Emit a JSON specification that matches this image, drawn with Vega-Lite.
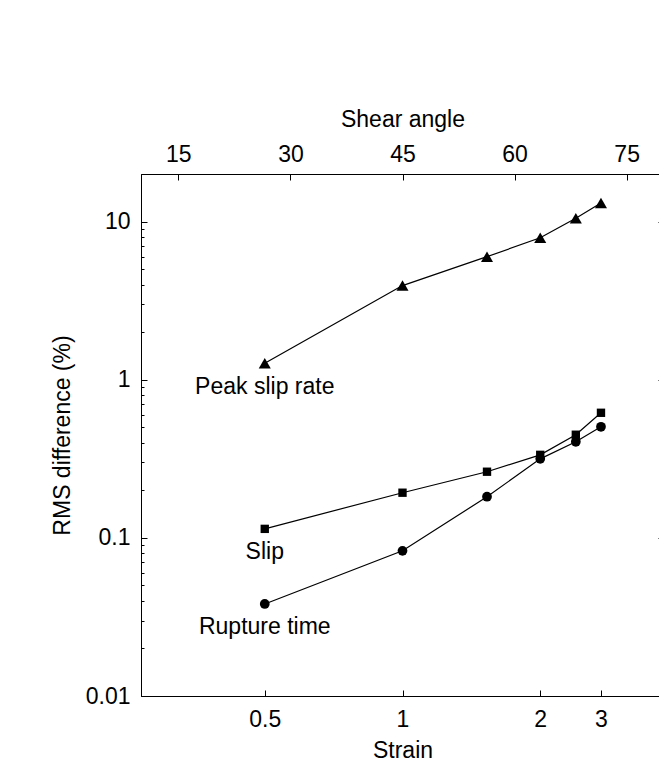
{
  "$schema": "https://vega.github.io/schema/vega-lite/v6.json",
  "width": 523,
  "height": 522,
  "autosize": {"type": "none"},
  "padding": {"left": 141, "top": 174, "right": 0, "bottom": 66},
  "background": "white",
  "datasets": {
    "pts": [
      {"series": "Peak slip rate", "strain": 0.5, "angle": 26.565, "value": 1.27},
      {"series": "Peak slip rate", "strain": 1.0, "angle": 45.0, "value": 3.94},
      {"series": "Peak slip rate", "strain": 1.5, "angle": 56.31, "value": 6.0},
      {"series": "Peak slip rate", "strain": 2.0, "angle": 63.435, "value": 7.9},
      {"series": "Peak slip rate", "strain": 2.5, "angle": 68.199, "value": 10.5},
      {"series": "Peak slip rate", "strain": 3.0, "angle": 71.565, "value": 13.1},
      {"series": "Slip", "strain": 0.5, "angle": 26.565, "value": 0.114},
      {"series": "Slip", "strain": 1.0, "angle": 45.0, "value": 0.193},
      {"series": "Slip", "strain": 1.5, "angle": 56.31, "value": 0.262},
      {"series": "Slip", "strain": 2.0, "angle": 63.435, "value": 0.335},
      {"series": "Slip", "strain": 2.5, "angle": 68.199, "value": 0.449},
      {"series": "Slip", "strain": 3.0, "angle": 71.565, "value": 0.618},
      {"series": "Rupture time", "strain": 0.5, "angle": 26.565, "value": 0.0382},
      {"series": "Rupture time", "strain": 1.0, "angle": 45.0, "value": 0.0828},
      {"series": "Rupture time", "strain": 1.5, "angle": 56.31, "value": 0.182},
      {"series": "Rupture time", "strain": 2.0, "angle": 63.435, "value": 0.316},
      {"series": "Rupture time", "strain": 2.5, "angle": 68.199, "value": 0.405},
      {"series": "Rupture time", "strain": 3.0, "angle": 71.565, "value": 0.504}
    ],
    "labels": [
      {"label": "Peak slip rate", "angle": 26.565, "value": 0.904},
      {"label": "Slip", "angle": 26.565, "value": 0.0815},
      {"label": "Rupture time", "angle": 26.565, "value": 0.0274}
    ]
  },
  "layer": [
    {
      "data": {"name": "pts"},
      "mark": {"type": "line", "color": "black", "strokeWidth": 1.2},
      "encoding": {
        "x": {
          "field": "angle", "type": "quantitative",
          "scale": {"domain": [10, 80], "nice": false, "zero": false},
          "axis": {
            "orient": "bottom", "title": "Strain",
            "values": [26.565, 45, 63.435, 71.565],
            "labelExpr": "datum.value < 30 ? '0.5' : datum.value < 50 ? '1' : datum.value < 67 ? '2' : '3'",
            "ticks": false, "labelPadding": 12, "titlePadding": 8
          }
        },
        "y": {
          "field": "value", "type": "quantitative",
          "scale": {"type": "log", "domain": [0.01, 20], "nice": false},
          "axis": {
            "orient": "left", "title": "RMS difference (%)",
            "values": [0.01, 0.1, 1, 10], "format": "~g",
            "ticks": false, "labelPadding": 11, "titlePadding": 11
          }
        },
        "detail": {"field": "series"}
      }
    },
    {
      "data": {"name": "pts"},
      "mark": {"type": "point", "filled": true, "color": "black", "opacity": 1},
      "encoding": {
        "x": {
          "field": "angle", "type": "quantitative",
          "axis": {
            "orient": "top", "title": "Shear angle",
            "values": [15, 30, 45, 60, 75],
            "ticks": false, "labelPadding": 8, "titlePadding": 12
          }
        },
        "y": {
          "field": "value", "type": "quantitative",
          "axis": {
            "orient": "left", "title": null, "labels": false, "domain": false,
            "values": [0.02, 0.03, 0.04, 0.05, 0.06, 0.07, 0.08, 0.09, 0.2, 0.3, 0.4, 0.5, 0.6, 0.7, 0.8, 0.9, 2, 3, 4, 5, 6, 7, 8, 9],
            "offset": -3, "tickSize": 3
          }
        },
        "shape": {
          "field": "series", "type": "nominal",
          "scale": {"domain": ["Peak slip rate", "Slip", "Rupture time"], "range": ["triangle-up", "square", "circle"]},
          "legend": null
        },
        "size": {
          "field": "series", "type": "nominal",
          "scale": {"type": "ordinal", "domain": ["Peak slip rate", "Slip", "Rupture time"], "range": [145, 70, 95]},
          "legend": null
        }
      }
    },
    {
      "data": {"name": "labels"},
      "mark": {"type": "text", "font": "Liberation Sans", "fontSize": 23, "color": "black", "align": "center", "baseline": "middle"},
      "encoding": {
        "x": {
          "field": "angle", "type": "quantitative",
          "axis": {"orient": "bottom", "title": null, "labels": false, "domain": false,
                   "values": [26.565, 45, 63.435, 71.565], "offset": -6, "tickSize": 6}
        },
        "y": {
          "field": "value", "type": "quantitative",
          "axis": {"orient": "right", "title": null, "labels": false, "domain": false,
                   "values": [0.01, 0.1, 1, 10], "offset": -6, "tickSize": 6}
        },
        "text": {"field": "label"}
      }
    },
    {
      "data": {"name": "pts"},
      "mark": {"type": "point", "opacity": 0},
      "encoding": {
        "x": {
          "field": "angle", "type": "quantitative",
          "axis": {"orient": "top", "title": null, "labels": false, "domain": false,
                   "values": [15, 30, 45, 60, 75], "offset": -6, "tickSize": 6}
        },
        "y": {
          "field": "value", "type": "quantitative",
          "axis": {"orient": "left", "title": null, "labels": false, "domain": false,
                   "values": [0.01, 0.1, 1, 10], "offset": -6, "tickSize": 6}
        }
      }
    }
  ],
  "resolve": {"axis": {"x": "independent", "y": "independent"}},
  "config": {
    "font": "Liberation Sans",
    "view": {"stroke": "black", "strokeWidth": 1},
    "axis": {
      "labelFont": "Liberation Sans", "titleFont": "Liberation Sans",
      "labelFontSize": 23, "titleFontSize": 23, "titleFontWeight": "normal",
      "labelColor": "black", "titleColor": "black",
      "domainColor": "black", "tickColor": "black", "domainWidth": 1, "tickWidth": 1,
      "grid": false, "labelFlush": false, "labelOverlap": false
    }
  }
}
